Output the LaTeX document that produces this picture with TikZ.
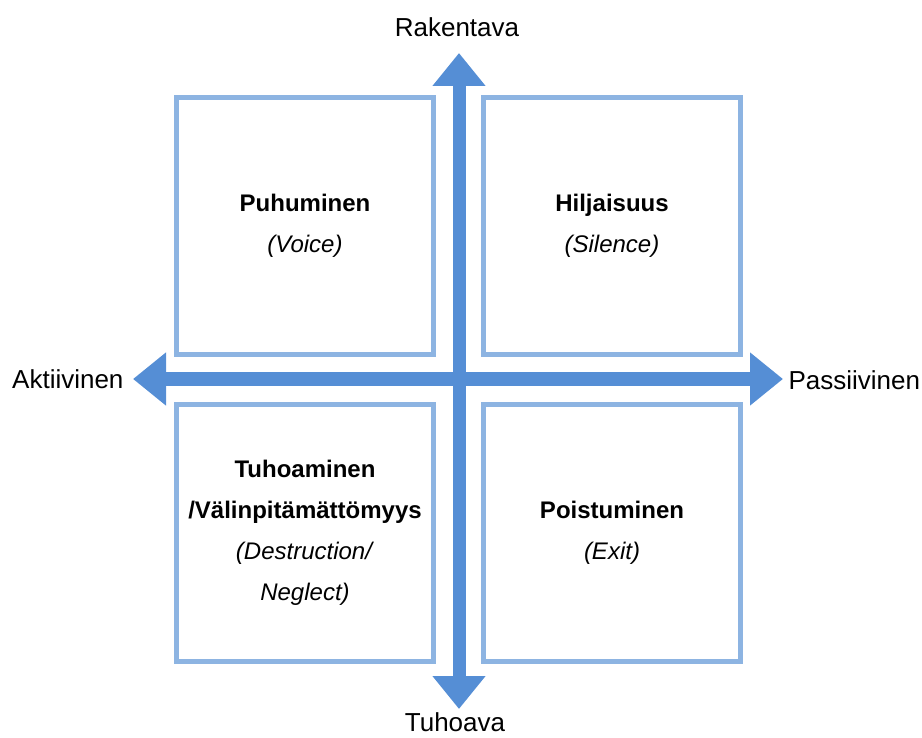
\documentclass[tikz,border=0pt]{standalone}
\usepackage{fontspec}
\setmainfont{Liberation Sans}
\usetikzlibrary{arrows.meta}
\definecolor{axisblue}{RGB}{85,142,213}
\definecolor{boxblue}{RGB}{141,180,226}
\begin{document}
\begin{tikzpicture}[x=1pt, y=-1pt,
    quadbox/.style={draw=boxblue, line width=5pt, minimum width=257pt, minimum height=257pt,
        align=center, inner sep=0pt, font=\fontsize{24}{41}\selectfont},
    axisarrow/.style={line width=13pt, axisblue,
        {Triangle[width=51pt,length=33pt]}-{Triangle[width=51pt,length=33pt]}},
    axislabel/.style={font=\fontsize{26}{30}\selectfont}]
    \useasboundingbox (0,0) rectangle (922,738);

    \node[quadbox] (voice) at (305,226) {\textbf{Puhuminen}\\\textit{(Voice)}};
    \node[quadbox] (silence) at (612,226) {\textbf{Hiljaisuus}\\\textit{(Silence)}};
    \node[quadbox] (neglect) at (305,532.5) {\textbf{Tuhoaminen}\\\textbf{/Välinpitämättömyys}\\\textit{(Destruction/}\\\textit{Neglect)}};
    \node[quadbox] (exit) at (612,532.5) {\textbf{Poistuminen}\\\textit{(Exit)}};

    \coordinate (top) at (459,53);
    \coordinate (bottom) at (459,709);
    \coordinate (left) at (133,379);
    \coordinate (right) at (783,379);

    \draw[axisarrow] (bottom) -- (top);
    \draw[axisarrow] (left) -- (right);

    \node[axislabel] (rak) at (457,27) {Rakentava};
    \node[axislabel] (tuh) at (455,722) {Tuhoava};
    \node[axislabel, anchor=east] (akt) at (127,379) {Aktiivinen};
    \node[axislabel, anchor=west] (pas) at (785,380) {Passiivinen};
\end{tikzpicture}
\end{document}
